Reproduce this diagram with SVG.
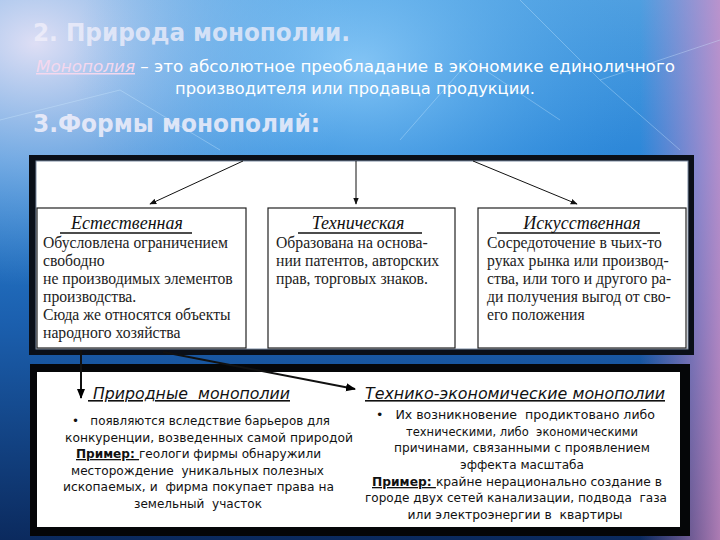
<svg xmlns="http://www.w3.org/2000/svg" width="720" height="540" viewBox="0 0 720 540">
<defs>
<linearGradient id="bg" x1="0" y1="0" x2="0" y2="1">
<stop offset="0" stop-color="#4f9fe0"/>
<stop offset="0.3" stop-color="#2b86d8"/>
<stop offset="0.6" stop-color="#1b5fae"/>
<stop offset="1" stop-color="#0b2a5e"/>
</linearGradient>
<radialGradient id="glowL" cx="0.05" cy="0.08" r="0.45">
<stop offset="0" stop-color="#e6e2f6" stop-opacity="0.95"/>
<stop offset="0.5" stop-color="#b9cdee" stop-opacity="0.5"/>
<stop offset="1" stop-color="#8fbde9" stop-opacity="0"/>
</radialGradient>
<radialGradient id="glowC" cx="0.5" cy="0.12" r="0.4">
<stop offset="0" stop-color="#9fd8ff" stop-opacity="0.7"/>
<stop offset="1" stop-color="#4aa8ee" stop-opacity="0"/>
</radialGradient>
<linearGradient id="rside" x1="0" y1="0" x2="1" y2="0">
<stop offset="0" stop-color="#c67fc6" stop-opacity="0"/>
<stop offset="1" stop-color="#d590c8" stop-opacity="0.8"/>
</linearGradient>
<marker id="ah" viewBox="0 0 10 10" refX="9" refY="5" markerWidth="7" markerHeight="7" orient="auto">
<path d="M0,1 L10,5 L0,9 z" fill="#111"/>
</marker>
<marker id="ah2" viewBox="0 0 10 10" refX="9" refY="5" markerWidth="5" markerHeight="5" orient="auto">
<path d="M0,1 L10,5 L0,9 z" fill="#000"/>
</marker>
</defs>
<style>
.ttl{font-family:"DejaVu Sans",sans-serif;font-weight:bold;fill:#f2f0fb}
.sub{font-family:"DejaVu Sans",sans-serif;font-size:15px;fill:#ffffff}
.box{fill:#ffffff;stroke:#222;stroke-width:1.2}
.hd{font-family:"Liberation Serif",serif;font-style:italic;font-size:18px;fill:#111;text-anchor:middle}
.bd{font-family:"Liberation Serif",serif;font-size:15.7px;fill:#222}
.ul{stroke:#111;stroke-width:1.3}
.lt{font-family:"DejaVu Sans",sans-serif;font-size:13px;fill:#111;white-space:pre}
.lh{font-family:"DejaVu Sans",sans-serif;font-size:16px;font-style:italic;fill:#111;text-decoration:underline;white-space:pre}
.c{text-anchor:middle}
.con{stroke:#111;fill:none}
</style>
<rect width="720" height="540" fill="url(#bg)"/>
<rect width="720" height="540" fill="url(#glowL)"/>
<rect width="720" height="540" fill="url(#glowC)"/>
<rect x="640" y="0" width="80" height="540" fill="url(#rside)"/>
<g stroke="#cfeaff" stroke-opacity="0.35" stroke-width="1" fill="none">
<path d="M520,0 L600,80 L720,40"/>
<path d="M600,80 L680,150"/>
<path d="M400,140 L470,60 L560,120"/>
<path d="M0,120 L120,90 L220,150"/>
</g>
<text class="ttl" x="33" y="41" font-size="24" fill-opacity="0.75" textLength="317" lengthAdjust="spacingAndGlyphs">2. Природа монополии.</text>
<text class="sub" x="36" y="72" textLength="639" lengthAdjust="spacingAndGlyphs"><tspan fill="#f4d8ee" font-style="italic" text-decoration="underline">Монополия</tspan> – это абсолютное преобладание в экономике единоличного</text>
<text class="sub c" x="355" y="94" textLength="360" lengthAdjust="spacingAndGlyphs">производителя или продавца продукции.</text>
<text class="ttl" x="33" y="132" font-size="25" fill-opacity="0.85" textLength="287" lengthAdjust="spacingAndGlyphs">3.Формы монополий:</text>

<rect x="29" y="155" width="665" height="200" fill="#0a0f18"/>
<rect x="36" y="161" width="652" height="188" fill="#ffffff" stroke="#7a8aa0" stroke-width="1"/>
<rect x="30" y="364" width="660" height="172" fill="#050608"/>
<rect x="37" y="372" width="643" height="155" fill="#ffffff"/>

<g id="connectors">
<line class="con" x1="243" y1="161" x2="150" y2="204" stroke-width="1" marker-end="url(#ah)"/>
<line class="con" x1="356" y1="161" x2="356" y2="204" stroke-width="1" marker-end="url(#ah)"/>
<line class="con" x1="473" y1="161" x2="577" y2="204" stroke-width="1" marker-end="url(#ah)"/>
<line class="con" x1="81" y1="350" x2="81" y2="398" stroke-width="2" marker-end="url(#ah2)"/>
<line class="con" x1="163" y1="352" x2="355" y2="389" stroke-width="2" marker-end="url(#ah2)"/>
</g>

<g id="natural">
<rect class="box" x="37" y="208" width="209" height="140"/>
<text class="hd" x="127" y="229">Естественная</text>
<line class="ul" x1="60" y1="233" x2="192" y2="233"/>
<text class="bd" x="43" y="248">Обусловлена ограничением</text>
<text class="bd" x="43" y="266">свободно</text>
<text class="bd" x="43" y="284">не производимых элементов</text>
<text class="bd" x="43" y="302">производства.</text>
<text class="bd" x="43" y="320">Сюда же относятся объекты</text>
<text class="bd" x="43" y="338">народного хозяйства</text>
</g>
<g id="technical">
<rect class="box" x="268" y="208" width="187" height="140"/>
<text class="hd" x="358" y="229">Техническая</text>
<line class="ul" x1="298" y1="233" x2="422" y2="233"/>
<text class="bd" x="276" y="248">Образована на основа-</text>
<text class="bd" x="276" y="266">нии патентов, авторских</text>
<text class="bd" x="276" y="284">прав, торговых знаков.</text>
</g>
<g id="artificial">
<rect class="box" x="478" y="208" width="208" height="140"/>
<text class="hd" x="582" y="229">Искусственная</text>
<line class="ul" x1="497" y1="233" x2="660" y2="233"/>
<text class="bd" x="487" y="248">Сосредоточение в чьих-то</text>
<text class="bd" x="487" y="266">руках рынка или производ-</text>
<text class="bd" x="487" y="284">ства, или того и другого ра-</text>
<text class="bd" x="487" y="302">ди получения выгод от сво-</text>
<text class="bd" x="487" y="320">его положения</text>
</g>

<g id="natural-monopolies">
<text class="lh" x="88" y="399" textLength="202" lengthAdjust="spacingAndGlyphs"> Природные  монополии</text>
<text class="lt" x="72" y="425" textLength="258" lengthAdjust="spacingAndGlyphs">•   появляются вследствие барьеров для</text>
<text class="lt" x="65" y="442" textLength="288" lengthAdjust="spacingAndGlyphs">конкуренции, возведенных самой природой</text>
<text class="lt" x="76" y="458" textLength="245" lengthAdjust="spacingAndGlyphs"><tspan font-weight="bold" text-decoration="underline">Пример: </tspan>геологи фирмы обнаружили</text>
<text class="lt" x="71" y="475" textLength="253" lengthAdjust="spacingAndGlyphs">месторождение  уникальных полезных</text>
<text class="lt" x="63" y="491" textLength="271" lengthAdjust="spacingAndGlyphs">ископаемых, и  фирма покупает права на</text>
<text class="lt c" x="198" y="508" textLength="128" lengthAdjust="spacingAndGlyphs">земельный  участок</text>
</g>
<g id="tech-econ-monopolies">
<text class="lh" x="365" y="399" textLength="300" lengthAdjust="spacingAndGlyphs">Технико-экономические монополии</text>
<text class="lt" x="376" y="419" textLength="279" lengthAdjust="spacingAndGlyphs">•   Их возникновение  продиктовано либо</text>
<text class="lt c" x="522" y="436" textLength="232" lengthAdjust="spacingAndGlyphs">техническими, либо  экономическими</text>
<text class="lt c" x="522" y="452" textLength="256" lengthAdjust="spacingAndGlyphs">причинами, связанными с проявлением</text>
<text class="lt c" x="522" y="469" textLength="124" lengthAdjust="spacingAndGlyphs">эффекта масштаба</text>
<text class="lt" x="372" y="486" textLength="290" lengthAdjust="spacingAndGlyphs"><tspan font-weight="bold" text-decoration="underline">Пример: </tspan>крайне нерационально создание в</text>
<text class="lt" x="365" y="502" textLength="302" lengthAdjust="spacingAndGlyphs">городе двух сетей канализации, подвода  газа</text>
<text class="lt c" x="515" y="519" textLength="215" lengthAdjust="spacingAndGlyphs">или электроэнергии в  квартиры</text>
</g>
</svg>
